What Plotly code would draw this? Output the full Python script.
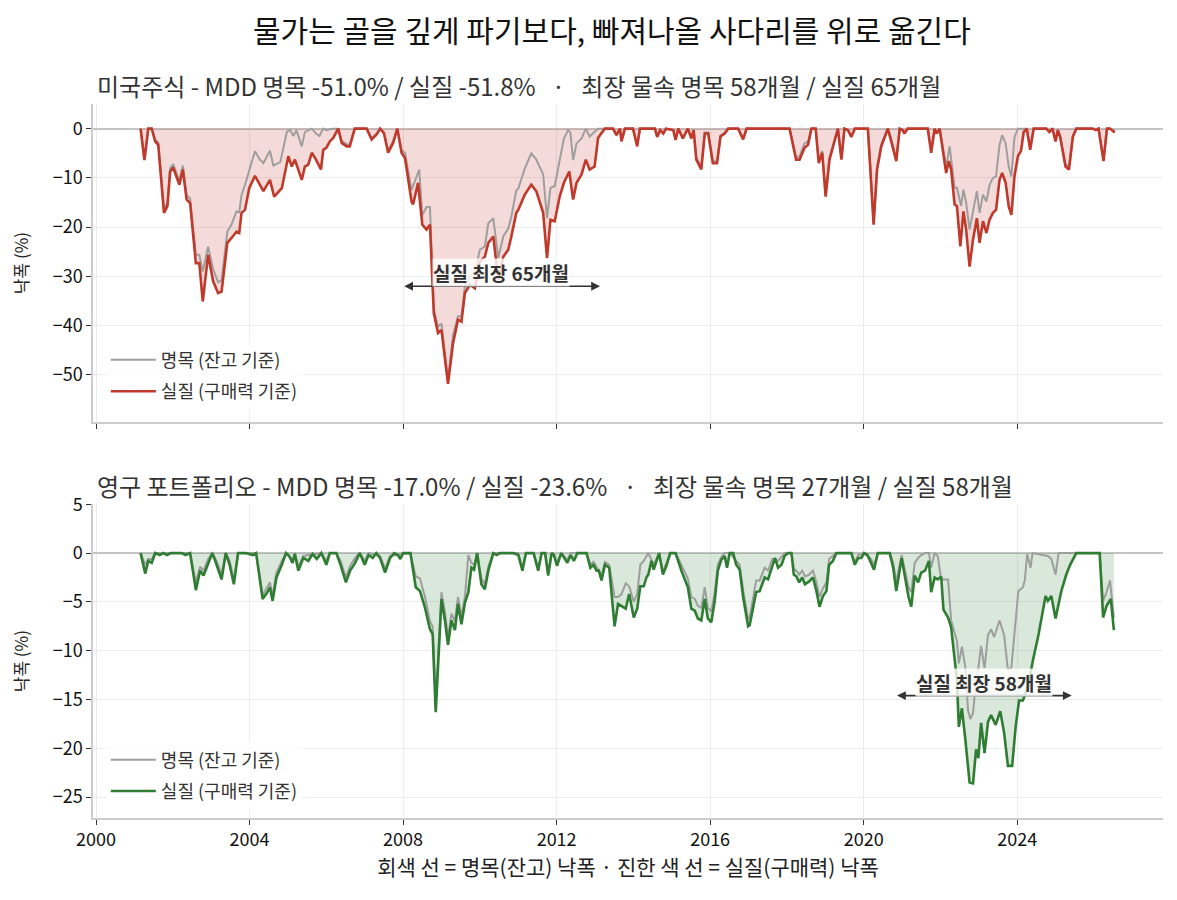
import plotly.graph_objects as go
from plotly.subplots import make_subplots

# ---- 미국주식 (decimal year, drawdown %) ----
us_real_x = [2001.16, 2001.26, 2001.36, 2001.45, 2001.54, 2001.62, 2001.77, 2001.86, 2001.93, 2002.01,
             2002.17, 2002.26, 2002.36, 2002.45, 2002.60, 2002.69, 2002.78, 2002.92, 2003.05, 2003.18,
             2003.27, 2003.42, 2003.53, 2003.66, 2003.73, 2003.79, 2003.88, 2003.99, 2004.14, 2004.36,
             2004.53, 2004.64, 2004.84, 2005.01, 2005.10, 2005.18, 2005.36, 2005.44, 2005.53, 2005.62,
             2005.73, 2005.86, 2005.92, 2006.00, 2006.09, 2006.18, 2006.31, 2006.40, 2006.53, 2006.61,
             2006.74, 2007.05, 2007.18, 2007.31, 2007.40, 2007.50, 2007.61, 2007.74, 2007.85, 2007.96,
             2008.05, 2008.22, 2008.26, 2008.39, 2008.50, 2008.61, 2008.70, 2008.80, 2008.91, 2009.00,
             2009.17, 2009.30, 2009.43, 2009.52, 2009.61, 2009.74, 2009.87, 2010.00, 2010.13, 2010.22,
             2010.35, 2010.48, 2010.61, 2010.74, 2010.82, 2010.95, 2011.00, 2011.17, 2011.34, 2011.47,
             2011.65, 2011.75, 2011.84, 2011.95, 2012.08, 2012.19, 2012.33, 2012.43, 2012.52, 2012.65,
             2012.76, 2012.86, 2012.99, 2013.08, 2013.17, 2013.26, 2013.47, 2013.56, 2013.65, 2013.69,
             2013.78, 2013.99, 2014.10, 2014.17, 2014.56, 2014.62, 2014.70, 2014.78, 2014.85, 2015.04,
             2015.10, 2015.17, 2015.29, 2015.42, 2015.51, 2015.57, 2015.64, 2015.77, 2015.86, 2015.95,
             2016.07, 2016.18, 2016.27, 2016.38, 2016.47, 2016.73, 2016.86, 2016.95, 2018.07, 2018.24,
             2018.33, 2018.46, 2018.55, 2018.64, 2018.75, 2018.83, 2018.92, 2019.01, 2019.11, 2019.24,
             2019.33, 2019.42, 2019.50, 2019.59, 2019.68, 2019.77, 2020.11, 2020.17, 2020.26, 2020.35,
             2020.46, 2020.55, 2020.63, 2020.72, 2020.85, 2020.94, 2021.02, 2021.06, 2021.15, 2021.67,
             2021.76, 2021.85, 2021.90, 2021.98, 2022.06, 2022.15, 2022.22, 2022.28, 2022.37, 2022.43,
             2022.52, 2022.60, 2022.67, 2022.76, 2022.85, 2022.95, 2023.02, 2023.11, 2023.20, 2023.28,
             2023.37, 2023.45, 2023.54, 2023.61, 2023.70, 2023.78, 2023.85, 2023.93, 2024.02, 2024.10,
             2024.17, 2024.25, 2024.34, 2024.43, 2024.76, 2024.84, 2024.92, 2025.00, 2025.06, 2025.12,
             2025.26, 2025.35, 2025.45, 2025.54, 2025.97, 2026.05, 2026.12, 2026.25, 2026.34, 2026.42,
             2026.54]
us_real_y = [0, -6.4, 0, 0, -2.6, -3.3, -17.1, -15.7, -8.7, -7.9,
             -11.4, -8.3, -14.4, -15.1, -27.3, -27.3, -35.1, -25.6, -31.0, -33.4,
             -33.1, -23.2, -22.2, -20.9, -21.2, -17.1, -16.5, -12.1, -9.6, -12.7,
             -10.4, -13.8, -12.1, -5.6, -7.7, -6.3, -10.4, -7.7, -7.3, -4.9,
             -6.3, -8.3, -4.3, -3.9, -2.6, -1.9, 0, -2.9, -3.6, -3.6,
             0, 0, -2.2, -1.2, 0, -0.9, -4.9, -2.9, 0, -4.9,
             -6.0, -14.8, -15.4, -11.0, -19.5, -20.5, -19.5, -37.5, -41.5, -40.9,
             -51.8, -43.6, -38.8, -39.2, -33.4, -31.7, -32.4, -27.0, -26.0, -23.2,
             -21.9, -30.7, -26.0, -24.6, -21.9, -17.1, -16.5, -13.4, -11.4, -12.7,
             -17.1, -26.3, -18.5, -18.8, -13.8, -11.0, -8.7, -14.4, -11.0, -9.3,
             -6.3, -8.3, -7.7, -1.9, -0.9, 0, 0, -1.3, 0, -2.6,
             0, 0, -3.6, 0, 0, -1.7, -0.3, -1.0, 0, -0.3,
             -2.3, 0, -2.0, 0, -2.0, -0.3, -6.3, -8.3, -1.0, -1.0,
             -7.0, -7.0, -1.6, -1.0, 0, 0, -2.2, 0, 0, -6.3,
             -6.3, -3.9, -3.3, 0, 0, -7.0, -4.9, -13.8, -6.3, -2.6,
             0, -6.3, 0, -0.3, -1.7, 0, 0, -7.7, -19.5, -8.3,
             -3.6, -1.7, 0, -2.6, -6.6, 0, -0.3, -1.0, 0, 0,
             -4.9, 0, -1.0, 0, -4.5, -9.0, -6.6, -8.3, -15.4, -15.7,
             -23.9, -16.8, -20.5, -28.0, -22.5, -18.2, -23.2, -18.8, -21.2, -18.5,
             -17.1, -16.5, -10.4, -9.0, -11.0, -15.8, -17.5, -9.7, -5.6, -4.5,
             -0.7, 0, -4.3, 0, 0, -0.7, 0, -2.6, -0.3, -1.7,
             -7.7, -8.3, -1.7, 0, 0, -0.3, 0, -6.6, 0, 0,
             -0.8]

us_nom_x = [2001.16, 2001.26, 2001.36, 2001.45, 2001.54, 2001.62, 2001.77, 2001.86, 2001.93, 2002.01,
            2002.17, 2002.26, 2002.36, 2002.45, 2002.60, 2002.69, 2002.78, 2002.92, 2003.05, 2003.18,
            2003.27, 2003.42, 2003.53, 2003.66, 2003.73, 2003.79, 2003.88, 2003.99, 2004.14, 2004.27,
            2004.36, 2004.53, 2004.62, 2004.80, 2004.97, 2005.05, 2005.14, 2005.22, 2005.36, 2005.44,
            2005.53, 2005.62, 2005.73, 2005.82, 2005.92, 2006.00, 2006.18, 2006.31, 2006.40, 2006.53,
            2006.61, 2006.74, 2007.05, 2007.18, 2007.31, 2007.40, 2007.50, 2007.61, 2007.74, 2007.85,
            2007.96, 2008.05, 2008.22, 2008.33, 2008.42, 2008.50, 2008.61, 2008.70, 2008.80, 2008.91,
            2009.00, 2009.17, 2009.30, 2009.43, 2009.52, 2009.61, 2009.74, 2009.87, 2010.00, 2010.13,
            2010.22, 2010.35, 2010.48, 2010.61, 2010.74, 2010.82, 2010.95, 2011.00, 2011.17, 2011.34,
            2011.47, 2011.65, 2011.75, 2011.84, 2011.95, 2012.08, 2012.19, 2012.30, 2012.36, 2012.43,
            2012.52, 2012.65, 2012.76, 2012.86, 2012.99, 2013.08, 2013.47, 2013.56, 2013.65, 2013.69,
            2013.78, 2013.99, 2014.10, 2014.17, 2014.56, 2014.62, 2014.70, 2014.78, 2014.85, 2015.04,
            2015.10, 2015.17, 2015.29, 2015.42, 2015.51, 2015.57, 2015.64, 2015.77, 2015.86, 2015.95,
            2016.07, 2016.18, 2016.27, 2016.38, 2016.47, 2016.73, 2016.86, 2016.95, 2018.07, 2018.24,
            2018.33, 2018.46, 2018.55, 2018.64, 2018.75, 2018.83, 2018.92, 2019.01, 2019.11, 2019.24,
            2019.33, 2019.42, 2019.50, 2019.59, 2019.68, 2019.77, 2020.11, 2020.17, 2020.26, 2020.35,
            2020.46, 2020.55, 2020.63, 2020.72, 2020.85, 2020.94, 2021.02, 2021.06, 2021.15, 2021.67,
            2021.76, 2021.85, 2021.90, 2021.98, 2022.06, 2022.15, 2022.24, 2022.30, 2022.37, 2022.43,
            2022.54, 2022.60, 2022.67, 2022.76, 2022.85, 2022.95, 2023.02, 2023.11, 2023.20, 2023.28,
            2023.37, 2023.45, 2023.54, 2023.61, 2023.70, 2023.78, 2023.85, 2023.93, 2024.02, 2024.25,
            2024.34, 2024.43, 2024.76, 2024.84, 2024.92, 2025.00, 2025.06, 2025.12, 2025.26, 2025.35,
            2025.45, 2025.54, 2025.97, 2026.05, 2026.12, 2026.25, 2026.34, 2026.42, 2026.54]
us_nom_y = [0, -6.0, 0, 0, -2.2, -2.8, -16.5, -15.0, -8.0, -7.2,
            -10.6, -7.5, -13.5, -14.2, -25.6, -25.6, -29.0, -24.0, -28.5, -31.2,
            -30.8, -20.9, -19.5, -16.8, -17.0, -13.5, -11.4, -8.3, -4.6, -6.3,
            -7.0, -4.5, -7.5, -6.8, -0.7, -0.2, -1.5, -0.3, -3.6, -0.7,
            -0.3, 0, -1.0, -1.5, 0, -0.3, 0, 0, -2.5, -3.2,
            -3.2, 0, 0, -2.0, -1.0, 0, -0.8, -4.4, -2.6, 0,
            -4.4, -4.9, -12.5, -10.4, -8.3, -17.6, -15.9, -15.9, -36.6, -40.2,
            -39.6, -51.0, -42.0, -38.1, -38.1, -32.0, -30.0, -29.3, -24.6, -23.9,
            -19.2, -18.2, -26.3, -21.9, -20.3, -17.9, -12.5, -12.2, -8.1, -5.0,
            -6.3, -9.3, -18.2, -12.0, -11.7, -6.4, -2.0, -0.3, -0.8, -6.4,
            -3.0, -2.0, 0, -1.6, -0.6, 0, 0, -1.2, 0, -2.4,
            0, 0, -3.4, 0, 0, -1.5, -0.3, -1.0, 0, -0.3,
            -2.2, 0, -1.8, 0, -1.8, -0.3, -5.8, -7.8, -0.8, -0.8,
            -6.6, -6.6, -1.4, -0.8, 0, 0, -2.0, 0, 0, -5.8,
            -5.6, -3.0, -2.6, 0, 0, -6.6, -4.5, -13.3, -5.8, -2.2,
            0, -6.0, 0, -0.3, -1.5, 0, 0, -7.4, -19.2, -7.9,
            -3.2, -1.4, 0, -2.2, -6.0, 0, -0.2, -0.8, 0, 0,
            -4.2, 0, -0.8, 0, -3.5, -7.7, -3.6, -8.0, -12.0, -12.0,
            -15.7, -12.4, -15.0, -20.5, -16.8, -12.7, -17.1, -13.4, -14.8, -11.4,
            -10.0, -9.7, -3.3, -1.3, -3.0, -7.7, -9.7, -1.7, 0, 0,
            -3.8, 0, 0, -0.5, 0, -2.2, -0.2, -1.4, -7.2, -7.8,
            -1.4, 0, 0, -0.2, 0, -6.2, 0, 0, -0.6]

# ---- 영구 포트폴리오 ----
pp_real_x = [2001.16, 2001.28, 2001.36, 2001.45, 2001.54, 2001.66, 2001.75, 2001.85, 2001.95, 2002.23,
             2002.33, 2002.45, 2002.60, 2002.71, 2002.80, 2002.92, 2003.03, 2003.14, 2003.27, 2003.38,
             2003.48, 2003.59, 2003.70, 2003.90, 2004.08, 2004.17, 2004.34, 2004.45, 2004.53, 2004.60,
             2004.70, 2004.84, 2004.95, 2005.03, 2005.12, 2005.18, 2005.27, 2005.40, 2005.53, 2005.64,
             2005.75, 2005.87, 2006.00, 2006.09, 2006.26, 2006.37, 2006.51, 2006.62, 2006.75, 2006.87,
             2007.00, 2007.10, 2007.21, 2007.30, 2007.40, 2007.53, 2007.66, 2007.77, 2007.86, 2007.93,
             2008.00, 2008.19, 2008.33, 2008.44, 2008.57, 2008.70, 2008.77, 2008.85, 2009.00, 2009.09,
             2009.17, 2009.26, 2009.35, 2009.43, 2009.52, 2009.61, 2009.70, 2009.78, 2009.85, 2009.93,
             2010.04, 2010.13, 2010.22, 2010.35, 2010.44, 2010.52, 2010.87, 2011.00, 2011.11, 2011.20,
             2011.40, 2011.52, 2011.61, 2011.70, 2011.78, 2011.87, 2011.93, 2012.01, 2012.12, 2012.20,
             2012.28, 2012.37, 2012.45, 2012.54, 2012.78, 2012.88, 2012.96, 2013.04, 2013.10, 2013.17,
             2013.26, 2013.37, 2013.51, 2013.60, 2013.69, 2013.80, 2013.89, 2014.01, 2014.10, 2014.18,
             2014.27, 2014.34, 2014.39, 2014.47, 2014.53, 2014.67, 2014.77, 2014.87, 2014.96, 2015.10,
             2015.25, 2015.34, 2015.42, 2015.51, 2015.60, 2015.68, 2015.77, 2015.86, 2015.94, 2016.03,
             2016.12, 2016.20, 2016.29, 2016.38, 2016.44, 2016.51, 2016.60, 2016.68, 2016.77, 2016.86,
             2016.99, 2017.03, 2017.12, 2017.20, 2017.29, 2017.42, 2017.51, 2017.62, 2017.69, 2017.77,
             2017.86, 2017.94, 2018.03, 2018.12, 2018.18, 2018.25, 2018.32, 2018.40, 2018.47, 2018.58,
             2018.68, 2018.77, 2018.85, 2018.94, 2019.03, 2019.10, 2019.20, 2019.29, 2019.68, 2019.77,
             2019.86, 2019.94, 2020.01, 2020.10, 2020.19, 2020.27, 2020.37, 2020.68, 2020.77, 2020.85,
             2020.99, 2021.08, 2021.17, 2021.24, 2021.33, 2021.42, 2021.50, 2021.60, 2021.70, 2021.76,
             2021.85, 2021.93, 2022.02, 2022.08, 2022.20, 2022.28, 2022.37, 2022.43, 2022.48, 2022.56,
             2022.65, 2022.76, 2022.85, 2022.93, 2022.99, 2023.06, 2023.15, 2023.24, 2023.32, 2023.44,
             2023.56, 2023.66, 2023.76, 2023.87, 2023.96, 2024.05, 2024.15, 2024.28, 2024.41, 2024.56,
             2024.74, 2024.80, 2024.89, 2025.00, 2025.15, 2025.28, 2025.38, 2025.54, 2026.15, 2026.24,
             2026.33, 2026.44, 2026.52]
pp_real_y = [0, -2.1, -0.8, -1.0, 0, -0.2, 0, -0.2, 0, 0,
             -0.2, 0, -3.8, -1.8, -2.3, -1.0, 0, -1.2, -2.7, 0,
             -1.2, -3.2, 0, 0, -0.2, 0, -4.7, -4.1, -3.5, -4.9,
             -2.5, -1.2, 0, -0.3, -1.0, -0.1, -1.8, -0.5, -0.8, -0.1,
             -0.6, 0, -1.2, 0, 0, -1.2, -3.0, -1.8, -1.0, 0,
             -1.2, -0.2, -0.5, 0, -0.5, -2.0, -0.5, 0, -0.2, -0.6,
             0, 0, -3.5, -3.9, -5.6, -7.8, -8.3, -16.3, -4.7, -6.9,
             -9.4, -6.9, -7.9, -5.2, -7.3, -5.1, -4.0, -1.5, -1.7, 0,
             -3.2, -3.7, -1.8, 0, -0.2, 0, 0, -0.2, -1.8, 0,
             0, -1.8, 0, 0, -2.3, 0, -0.2, -1.3, 0, -0.5,
             -1.0, -0.2, -0.8, 0, 0, -1.5, -1.2, -1.8, -1.8, -2.8,
             -1.2, -1.5, -7.5, -5.2, -5.4, -5.7, -4.2, -6.6, -5.7, -3.4,
             -3.4, -2.5, -2.2, -0.8, -1.7, 0, -2.2, -1.2, 0, 0,
             -1.8, -2.6, -3.5, -5.7, -5.9, -6.7, -6.9, -4.7, -6.7, -7.1,
             -4.9, -1.8, -0.7, -0.3, -1.5, 0, 0, -1.2, -1.7, -4.5,
             -7.5, -7.4, -5.6, -4.0, -3.9, -2.5, -2.7, -1.2, -0.5, -1.5,
             -1.2, -0.3, 0, 0, -2.2, -2.4, -3.0, -2.5, -3.2, -2.9,
             -2.5, -3.9, -5.5, -4.4, -3.9, -1.2, -0.8, 0, 0, -1.2,
             -0.5, -0.5, 0, -0.2, -1.0, -1.7, 0, 0, -1.5, -3.9,
             -0.5, -2.5, -4.5, -5.5, -2.3, -3.0, -2.0, -1.8, -0.8, -4.0,
             -2.5, -2.7, -2.4, -5.8, -6.6, -7.6, -10.6, -13.0, -17.8, -15.9,
             -19.1, -23.5, -23.6, -20.1, -21.0, -17.4, -20.5, -17.3, -16.6, -17.6,
             -16.2, -18.4, -21.8, -21.8, -17.8, -15.1, -15.1, -13.7, -11.0, -8.3,
             -4.4, -4.9, -4.4, -6.7, -3.9, -2.2, -1.2, 0, 0, -6.6,
             -5.4, -4.7, -7.9]

pp_nom_x = [2001.16, 2001.28, 2001.36, 2001.45, 2001.54, 2002.45, 2002.60, 2002.71, 2002.80, 2002.92,
            2003.03, 2003.14, 2003.27, 2003.38, 2003.48, 2003.59, 2003.70, 2004.17, 2004.34, 2004.45,
            2004.53, 2004.60, 2004.70, 2004.84, 2004.95, 2005.12, 2005.18, 2005.27, 2005.40, 2005.87,
            2006.00, 2006.09, 2006.26, 2006.37, 2006.51, 2006.62, 2006.75, 2006.87, 2007.00, 2007.10,
            2007.40, 2007.53, 2007.66, 2008.19, 2008.33, 2008.44, 2008.57, 2008.70, 2008.77, 2008.85,
            2009.00, 2009.09, 2009.17, 2009.26, 2009.35, 2009.43, 2009.52, 2009.61, 2009.70, 2009.78,
            2009.85, 2009.93, 2010.04, 2010.13, 2010.22, 2010.35, 2011.00, 2011.11, 2011.20, 2011.40,
            2011.52, 2011.61, 2011.70, 2011.78, 2011.87, 2011.93, 2012.01, 2012.12, 2012.28, 2012.37,
            2012.78, 2012.88, 2012.96, 2013.04, 2013.17, 2013.26, 2013.37, 2013.51, 2013.60, 2013.69,
            2013.80, 2013.89, 2014.01, 2014.10, 2014.18, 2014.27, 2014.39, 2014.53, 2014.67, 2014.77,
            2014.87, 2014.96, 2015.10, 2015.25, 2015.34, 2015.42, 2015.51, 2015.60, 2015.68, 2015.77,
            2015.86, 2015.94, 2016.03, 2016.12, 2016.20, 2016.29, 2016.38, 2016.51, 2016.68, 2016.77,
            2016.86, 2016.99, 2017.03, 2017.12, 2017.20, 2017.29, 2017.42, 2017.51, 2017.62, 2017.77,
            2017.94, 2018.12, 2018.18, 2018.25, 2018.32, 2018.40, 2018.47, 2018.58, 2018.68, 2018.77,
            2018.85, 2018.94, 2019.03, 2019.10, 2019.20, 2019.29, 2019.68, 2019.77, 2019.86, 2020.01,
            2020.19, 2020.27, 2020.37, 2020.68, 2020.77, 2020.85, 2020.99, 2021.08, 2021.17, 2021.24,
            2021.33, 2021.42, 2021.50, 2021.60, 2021.70, 2021.76, 2021.85, 2021.93, 2022.02, 2022.08,
            2022.20, 2022.28, 2022.37, 2022.43, 2022.48, 2022.56, 2022.65, 2022.72, 2022.78, 2022.85,
            2022.93, 2022.99, 2023.06, 2023.15, 2023.24, 2023.32, 2023.40, 2023.54, 2023.66, 2023.76,
            2023.85, 2023.96, 2024.03, 2024.15, 2024.20, 2024.26, 2024.35, 2024.40, 2024.80, 2024.89,
            2025.00, 2025.08, 2026.15, 2026.24, 2026.33, 2026.42, 2026.52]
pp_nom_y = [0, -1.2, -0.6, -0.6, 0, 0, -3.0, -1.4, -1.8, -0.6,
            0, -0.8, -2.2, 0, -0.8, -2.8, 0, 0, -4.3, -3.6,
            -3.0, -4.4, -2.0, -0.8, 0, -0.7, 0, -1.4, -0.3, 0,
            -0.8, 0, 0, -0.8, -2.5, -1.3, -0.5, 0, -0.8, 0,
            -0.3, -1.6, -0.3, 0, -2.4, -2.6, -4.5, -7.0, -7.5, -15.5,
            -4.0, -6.0, -8.6, -6.2, -7.0, -4.5, -6.5, -4.5, -0.2, -1.0,
            -1.2, 0, -2.6, -3.2, -1.4, 0, 0, -1.5, 0, 0,
            -1.5, 0, 0, -2.0, 0, -0.2, -1.0, 0, -0.7, 0,
            0, -1.2, -0.9, -1.4, -2.3, -0.9, -1.2, -4.5, -4.5, -4.2,
            -3.1, -3.4, -5.0, -4.2, -1.2, -0.8, 0, -1.2, 0, -1.9,
            -0.9, 0, 0, -1.3, -1.9, -2.6, -4.5, -4.7, -5.4, -5.6,
            -3.5, -5.6, -6.0, -4.0, -1.2, -0.4, 0, 0, -0.8, -1.2,
            -3.8, -6.8, -6.6, -4.6, -2.8, -2.8, -1.5, -1.8, -0.6, -0.8,
            0, 0, -1.6, -1.8, -2.2, -1.8, -2.4, -2.2, -1.8, -3.0,
            -4.5, -3.6, -3.0, -0.6, -0.3, 0, 0, -0.9, -0.2, 0,
            -0.6, -1.2, 0, 0, -1.0, -3.0, -0.2, -1.8, -3.5, -4.0,
            -1.0, -0.5, -0.2, 0, 0, -1.5, 0, -0.3, -2.7, -2.7,
            -2.7, -6.9, -8.3, -9.0, -11.3, -9.6, -11.7, -16.1, -17.0, -16.4,
            -13.0, -11.7, -9.5, -11.8, -8.4, -7.8, -8.6, -6.9, -8.4, -12.0,
            -11.7, -6.7, -3.9, -3.5, -2.8, -0.1, -1.5, 0, -0.3, -0.6,
            -2.2, 0, 0, -4.9, -4.0, -2.8, -6.6]

# 최장 물속 구간 (decimal year) 및 라벨
us_span = [2007.99, 2013.13]
us_span_label = "실질 최장 65개월"
pp_span = [2020.83, 2025.42]
pp_span_label = "실질 최장 58개월"

SEP = "\u00a0\u00a0\u00a0·\u00a0\u00a0\u00a0"
us_title = "미국주식 - MDD 명목 -51.0% / 실질 -51.8%" + SEP + "최장 물속 명목 58개월 / 실질 65개월"
pp_title = "영구 포트폴리오 - MDD 명목 -17.0% / 실질 -23.6%" + SEP + "최장 물속 명목 27개월 / 실질 58개월"

FONT = "Noto Sans CJK KR"
GRAY = "#9e9e9e"
RED = "#c0392b"
GREEN = "#2e7d32"

fig = make_subplots(rows=2, cols=1, shared_xaxes=True, vertical_spacing=0.115,
                    row_heights=[0.5035, 0.4965])

panels = [
    (1, us_nom_x, us_nom_y, us_real_x, us_real_y, RED, "rgba(192,57,43,0.18)", "legend"),
    (2, pp_nom_x, pp_nom_y, pp_real_x, pp_real_y, GREEN, "rgba(46,125,50,0.18)", "legend2"),
]
for row, nx, ny, rx, ry, col, fillc, leg in panels:
    fig.add_trace(go.Scatter(x=rx, y=ry, mode="lines", line=dict(width=0), fill="tozeroy",
                             fillcolor=fillc, showlegend=False, hoverinfo="skip"), row=row, col=1)
    fig.add_trace(go.Scatter(x=nx, y=ny, mode="lines", name="명목 (잔고 기준)",
                             line=dict(color=GRAY, width=2), legend=leg,
                             legendgroup="nom%d" % row), row=row, col=1)
    fig.add_trace(go.Scatter(x=rx, y=ry, mode="lines", name="실질 (구매력 기준)",
                             line=dict(color=col, width=2.6), legend=leg,
                             legendgroup="real%d" % row), row=row, col=1)

axis_common = dict(showgrid=True, gridcolor="#ececec", gridwidth=1, showline=True,
                   linecolor="#cccccc", linewidth=1.5, ticks="outside", ticklen=5,
                   tickcolor="#333", tickfont=dict(size=18, color="#111"), mirror=False,
                   automargin=False)

fig.update_xaxes(range=[1999.92, 2027.8], tickvals=[2000, 2004, 2008, 2012, 2016, 2020, 2024],
                 zeroline=False, **axis_common)
fig.update_xaxes(title=dict(text="회색 선 = 명목(잔고) 낙폭 · 진한 색 선 = 실질(구매력) 낙폭",
                            font=dict(size=21, color="#222"), standoff=6), row=2, col=1)
fig.update_yaxes(zeroline=True, zerolinecolor="#c4c4c4", zerolinewidth=1.5,
                 title=dict(text="낙폭 (%)", font=dict(size=17, color="#222"), standoff=20),
                 **axis_common)
fig.update_yaxes(range=[-59.6, 5], tickvals=[0, -10, -20, -30, -40, -50], row=1, col=1)
fig.update_yaxes(range=[-27.14, 5], tickvals=[5, 0, -5, -10, -15, -20, -25], row=2, col=1)

# 최장 물속 구간 화살표 + 라벨
for span, label, ytxt, yarr, xr, yr in [(us_span, us_span_label, -29.2, -32.0, "x", "y"),
                                        (pp_span, pp_span_label, -13.3, -14.6, "x2", "y2")]:
    fig.add_annotation(x=span[1], y=yarr, ax=span[0], ay=yarr, xref=xr, yref=yr, axref=xr, ayref=yr,
                       text="", showarrow=True, arrowside="end+start", arrowhead=2, arrowsize=1.1,
                       arrowwidth=1.6, arrowcolor="#333")
    fig.add_annotation(x=(span[0] + span[1]) / 2, y=ytxt, xref=xr, yref=yr, showarrow=False,
                       text="<b>%s</b>" % label, font=dict(size=19, color="#333"),
                       bgcolor="rgba(255,255,255,0.8)", borderpad=0)

# 패널 제목
fig.add_annotation(x=0.002, y=1.0266, xref="paper", yref="paper", xanchor="left", yanchor="middle",
                   text=us_title, showarrow=False, font=dict(size=24, color="#333"))
fig.add_annotation(x=0.002, y=0.465, xref="paper", yref="paper", xanchor="left", yanchor="middle",
                   text=pp_title, showarrow=False, font=dict(size=24, color="#333"))

# 전체 제목
fig.add_annotation(x=0.485, y=1.105, xref="paper", yref="paper", xanchor="center", yanchor="middle",
                   text="물가는 골을 깊게 파기보다, 빠져나올 사다리를 위로 옮긴다",
                   showarrow=False, font=dict(size=30, color="#111"))

legend_style = dict(bgcolor="rgba(255,255,255,0.8)", borderwidth=0, font=dict(size=18, color="#333"),
                    xanchor="left", yanchor="bottom", tracegroupgap=5, itemwidth=45)
fig.update_layout(
    width=1177, height=900,
    font=dict(family=FONT, color="#222"),
    paper_bgcolor="white", plot_bgcolor="white",
    margin=dict(l=85, r=22, t=96, b=90),
    legend=dict(x=0.012, y=0.572, **legend_style),
    legend2=dict(x=0.012, y=0.012, **legend_style),
)

fig.write_html("out.html")
